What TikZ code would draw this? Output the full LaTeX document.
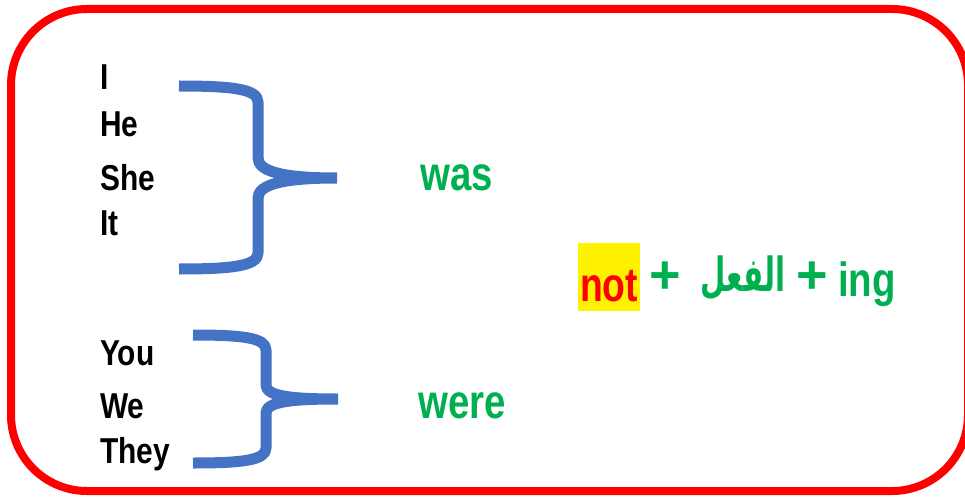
\documentclass[tikz,border=0pt]{standalone}
\usepackage{fontspec}
\setmainfont{Liberation Sans}
\newfontfamily\arabicfont[Script=Arabic]{DejaVu Sans}
\TeXXeTstate=1
\definecolor{bracketblue}{HTML}{4472C4}
\definecolor{txtgreen}{HTML}{00B050}
\tikzset{
  pron/.style={anchor=base west, inner sep=0pt, font=\fontsize{36}{36}\selectfont\bfseries, xscale=0.83, transform shape},
  verb/.style={anchor=base west, inner sep=0pt, text=txtgreen, font=\fontsize{48}{48}\selectfont\bfseries, xscale=0.8, transform shape},
  sym/.style={anchor=center, inner sep=0pt, text=txtgreen, font=\fontsize{54}{54}\selectfont\bfseries},
  brace/.style={draw=bracketblue, line width=11pt, line join=round},
}
\begin{document}
\begin{tikzpicture}[x=1pt,y=-1pt]
\useasboundingbox (0,0) rectangle (965,497);
\begin{scope}
\clip (0,0) rectangle (965,497);
\draw[red, line width=8pt, rounded corners=76pt] (11,9) rectangle (968,491);
\end{scope}
% pronouns
\node[pron] (i) at (100,90) {I};
\node[pron] (he) at (100,137) {He};
\node[pron] (she) at (100,190) {She};
\node[pron] (it) at (100,235) {It};
\node[pron] (you) at (100,365) {You};
\node[pron] (we) at (100,418) {We};
\node[pron] (they) at (100,463) {They};
% brackets
\draw[brace] (179,86) .. controls (232,86) and (258,89) .. (258,102) -- (258,158)
  .. controls (258,172) and (285,178) .. (337,178)
  (337,178) .. controls (285,178) and (258,184) .. (258,198) -- (258,253)
  .. controls (258,266) and (232,269) .. (179,269);
\draw[brace] (193,335) .. controls (244,335) and (266,338) .. (266,350) -- (266,385)
  .. controls (266,396) and (290,399) .. (338,399)
  (338,399) .. controls (290,399) and (266,402) .. (266,413) -- (266,448)
  .. controls (266,460) and (244,463) .. (193,463);
% verbs
\node[verb] (was) at (420,190) {was};
\node[verb] (were) at (418,418) {were};
% formula
\fill[yellow] (578,243) rectangle (640,311);
\node[verb, text=red, xscale=0.97] (not) at (580,301) {not};
\node[sym] (plus1) at (665,278) {+};
\node[inner sep=0pt, anchor=base, text=txtgreen, font=\fontsize{47}{47}\selectfont\arabicfont\bfseries, xscale=0.62, transform shape] (verbar) at (743,291) {\beginR الفعل\endR};
\node[sym] (plus2) at (812,278) {+};
\node[verb] (ing) at (838,296) {ing};
\end{tikzpicture}
\end{document}
